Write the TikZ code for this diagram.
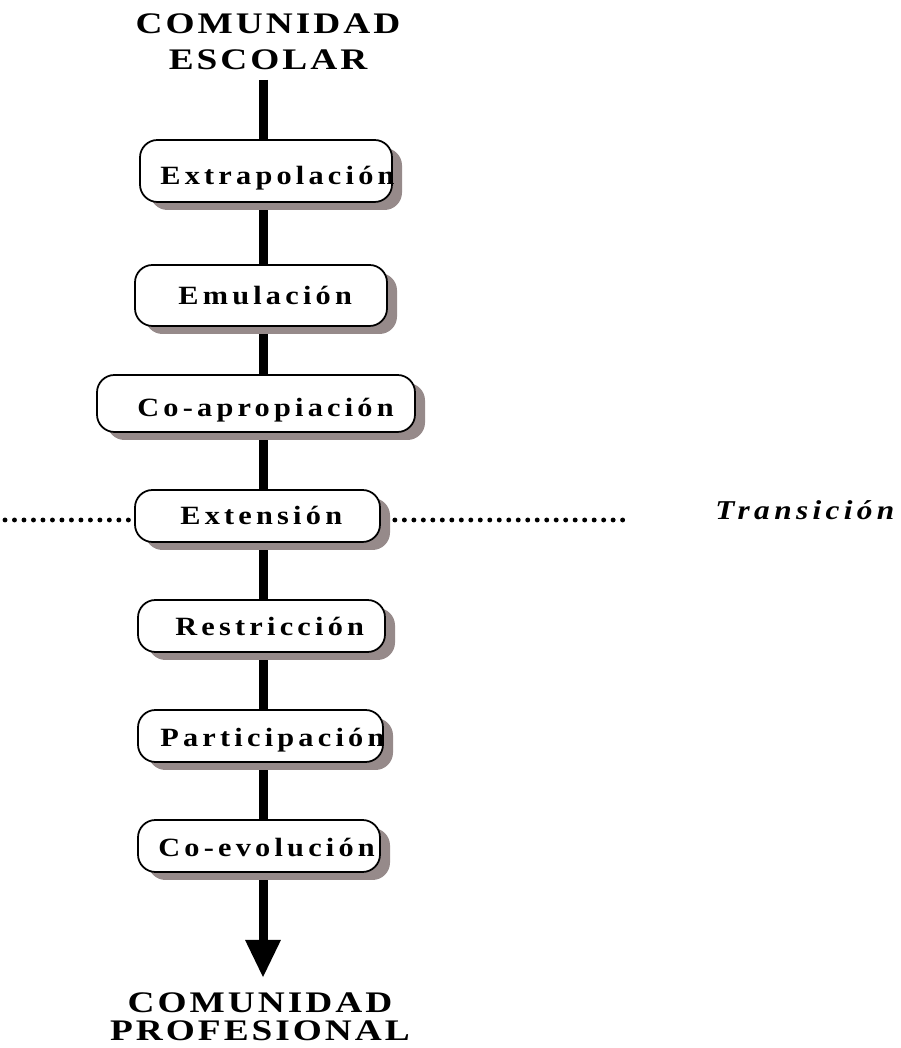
\documentclass[tikz,border=0pt]{standalone}
\usepackage{fontspec}
\setmainfont{Liberation Serif}
\newfontfamily\spacedfont[LetterSpace=16,FakeStretch=1.15]{Liberation Serif}
\newfontfamily\titlefont[LetterSpace=10,FakeStretch=1.25]{Liberation Serif}
\usepackage{tikz}
\usetikzlibrary{positioning,arrows.meta,shadows,calc}
\definecolor{shadowgray}{RGB}{150,138,138}

\tikzset{
    stepbox/.style={draw, line width=1pt, rounded corners=0.35cm, fill=white, inner sep=0pt,
        drop shadow={shadow xshift=0.2cm, shadow yshift=-0.16cm, fill=shadowgray, opacity=1}},
    steptext/.style={anchor=base west, inner sep=0pt, font=\spacedfont\bfseries\fontsize{15}{18}\selectfont},
    commtext/.style={anchor=base, inner sep=0pt, align=center, font=\titlefont\bfseries\fontsize{17}{21}\selectfont},
    phasetext/.style={anchor=base west, inner sep=0pt, font=\spacedfont\bfseries\itshape\fontsize{15.5}{18}\selectfont},
    dotline/.style={line width=2.8pt, line cap=round, dash pattern=on 0pt off 5.4pt}
}

\begin{document}
\begin{tikzpicture}
        \useasboundingbox (0,0) rectangle (18,20.96);

        \node[commtext] (escolar) at (5.36,19.56) {COMUNIDAD\\ESCOLAR};
        \node[commtext, font=\titlefont\bfseries\fontsize{17}{16}\selectfont] (profesional) at (5.2,0.14) {COMUNIDAD\\PROFESIONAL};

        \coordinate (top) at (5.26,19.36);
        \coordinate (tip) at (5.26,1.4);
        \draw[line width=0.18cm, -{Triangle[width=0.66cm,length=0.76cm]}] (top) -- (tip);

        \coordinate (dl) at (0.1,10.56);
        \coordinate (dr) at (12.56,10.56);

        \node[stepbox, minimum width=5.04cm, minimum height=1.24cm] (b1) at (5.32,17.54) {};
        \node[stepbox, minimum width=5.04cm, minimum height=1.22cm] (b2) at (5.22,15.05) {};
        \node[stepbox, minimum width=6.36cm, minimum height=1.14cm] (b3) at (5.12,12.89) {};
        \node[stepbox, minimum width=4.9cm, minimum height=1.04cm] (b4) at (5.15,10.64) {};
        \node[stepbox, minimum width=4.94cm, minimum height=1.04cm] (b5) at (5.23,8.44) {};
        \node[stepbox, minimum width=4.9cm, minimum height=1.04cm] (b6) at (5.21,6.24) {};
        \node[stepbox, minimum width=4.84cm, minimum height=1.04cm] (b7) at (5.18,4.04) {};

        \node[steptext] (t1) at (3.2,17.26) {Extrapolación};
        \node[steptext] (t2) at (3.56,14.86) {Emulación};
        \node[steptext] (t3) at (2.74,12.62) {Co-apropiación};
        \node[steptext] (t4) at (3.6,10.46) {Extensión};
        \node[steptext] (t5) at (3.5,8.24) {Restricción};
        \node[steptext] (t6) at (3.2,6.02) {Participación};
        \node[steptext] (t7) at (3.16,3.82) {Co-evolución};

        % transition line
        \draw[dotline] (dl) -- (dl -| b4.west);
        \draw[dotline] ($(dr -| b4.east)+(0.28,0)$) -- (dr);
        \node[phasetext] (transicion) at (14.3,10.56) {Transición};
    \end{tikzpicture}
\end{document}
